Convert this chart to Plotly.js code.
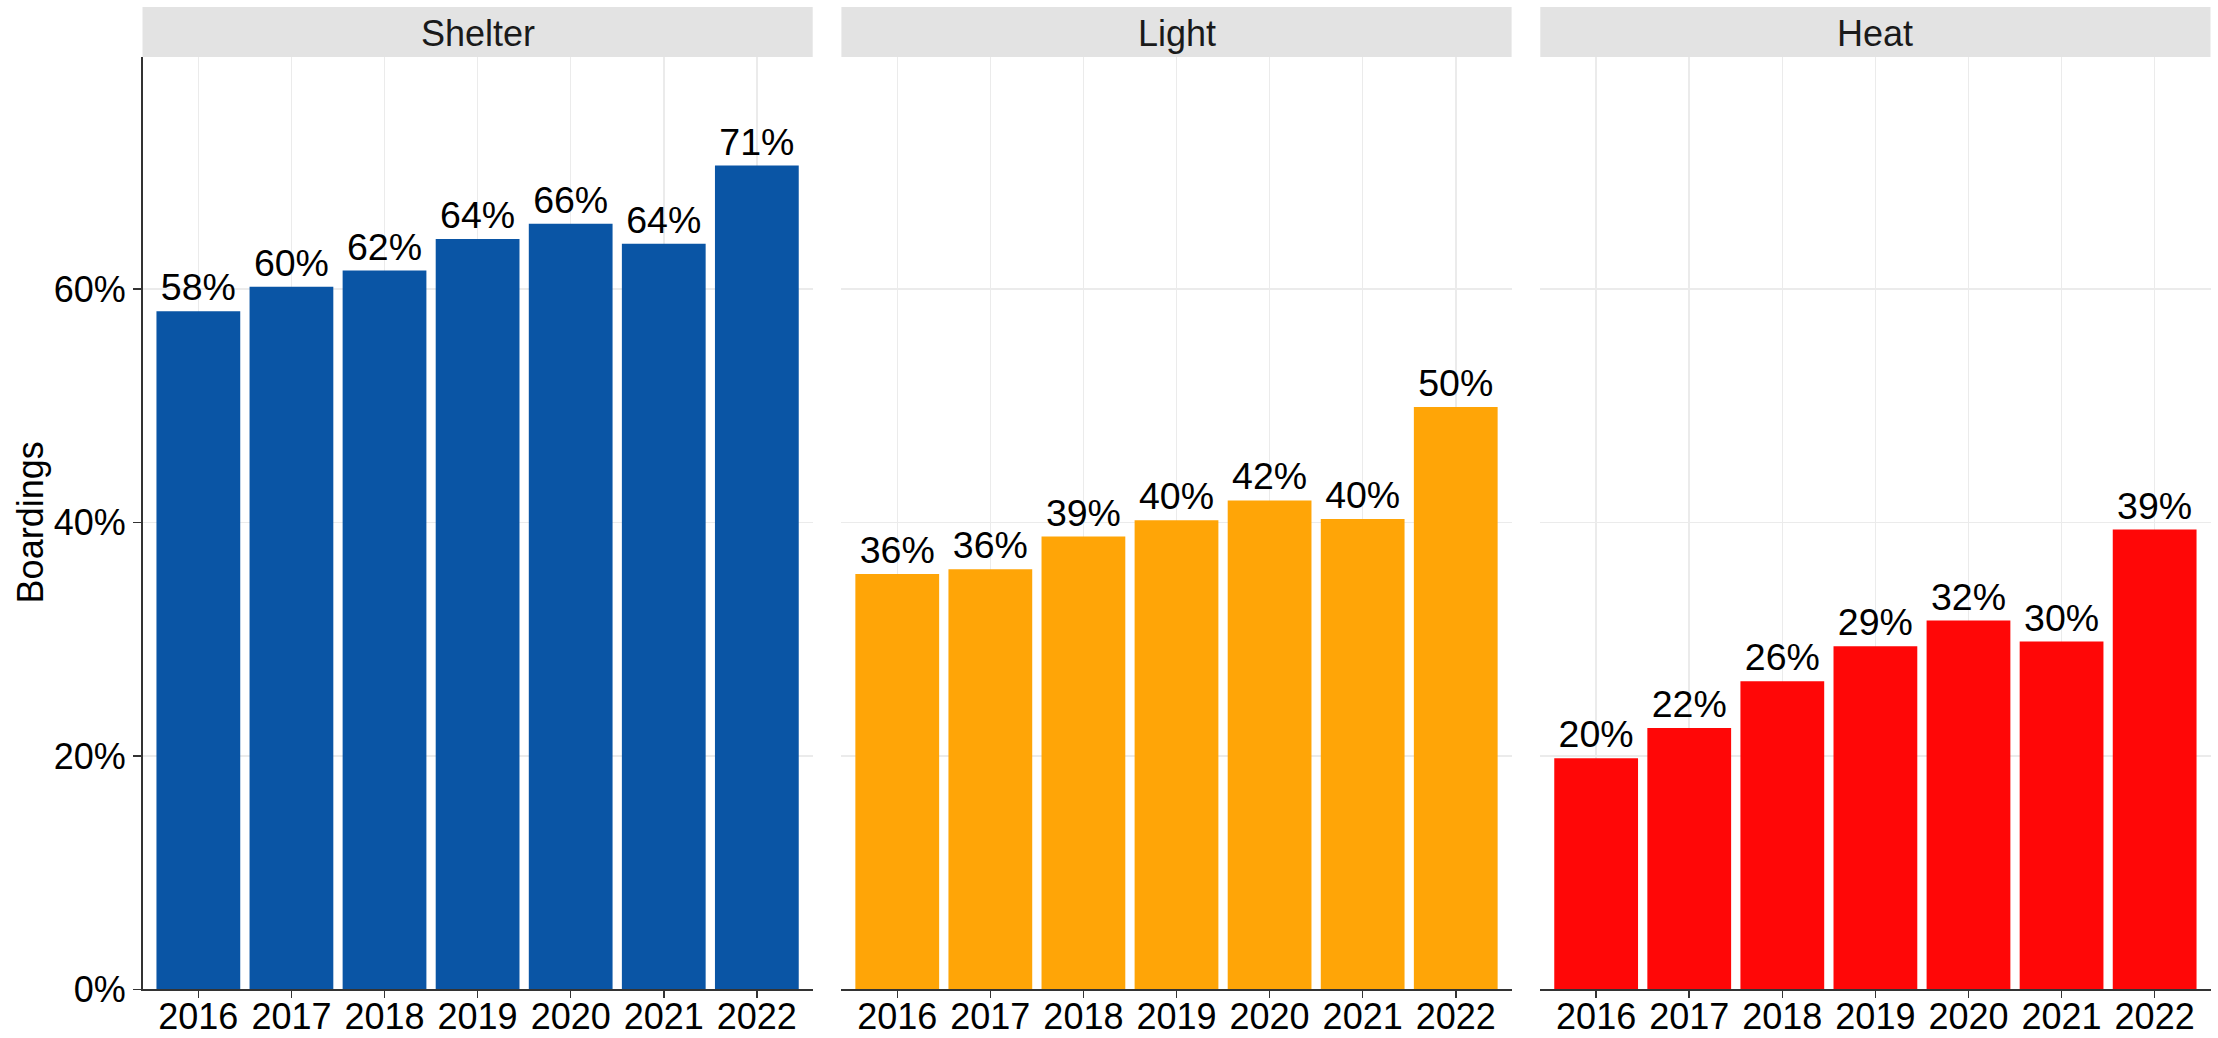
<!DOCTYPE html>
<html>
<head>
<meta charset="utf-8">
<script src="https://cdn.plot.ly/plotly-3.0.1.min.js"></script>
<style>html,body{margin:0;padding:0;background:#fff;}#chart{width:2218px;height:1038px;}</style>
</head>
<body>
<div id="chart"></div>
<script>
const years = ['2016', '2017', '2018', '2019', '2020', '2021', '2022'];
const panels = ['Shelter', 'Light', 'Heat'];
const shelter = [58.1, 60.2, 61.6, 64.3, 65.6, 63.9, 70.6];
const light = [35.6, 36.0, 38.8, 40.2, 41.9, 40.3, 49.9];
const heat = [19.8, 22.4, 26.4, 29.4, 31.6, 29.8, 39.4];
const yTicks = [0, 20, 40, 60];
const yTitle = 'Boardings';

const series = [shelter, light, heat];
const colors = ['#0A55A5', '#FFA507', '#FF0707'];
const W = 2218, H = 1038;
const FONT = 'Liberation Sans, Arial, sans-serif';
const xDomains = [[142.5, 812.7], [841.4, 1511.6], [1540.3, 2210.5]].map(d => [d[0] / W, d[1] / W]);
const yDomain = [(H - 989.3) / H, (H - 57) / H];

const traces = series.map((vals, i) => ({
  type: 'bar',
  x: years,
  y: vals,
  xaxis: i === 0 ? 'x' : 'x' + (i + 1),
  yaxis: i === 0 ? 'y' : 'y' + (i + 1),
  marker: {color: colors[i], line: {width: 0}},
  width: 0.9,
  texttemplate: '%{y:.0f}%',
  textposition: 'outside',
  cliponaxis: false,
  textfont: {family: FONT, size: 37.5, color: '#000'},
  outsidetextfont: {family: FONT, size: 37.5, color: '#000'},
  hoverinfo: 'skip',
  showlegend: false
}));

const layout = {
  width: W, height: H,
  margin: {l: 0, r: 0, t: 0, b: 0},
  paper_bgcolor: '#fff', plot_bgcolor: '#fff',
  font: {family: FONT, size: 36, color: '#000'},
  showlegend: false,
  shapes: [],
  annotations: []
};

panels.forEach((name, i) => {
  const xk = i === 0 ? 'xaxis' : 'xaxis' + (i + 1);
  const yk = i === 0 ? 'yaxis' : 'yaxis' + (i + 1);
  const xr = i === 0 ? 'x' : 'x' + (i + 1);
  layout[xk] = {
    domain: xDomains[i],
    anchor: i === 0 ? 'y' : 'y' + (i + 1),
    type: 'category',
    range: [-0.6, 6.6],
    showgrid: true, gridcolor: '#EBEBEB', gridwidth: 1.5,
    showline: true, linecolor: '#333', linewidth: 1.5,
    ticks: 'outside', ticklen: 7, tickwidth: 1.5, tickcolor: '#333',
    ticklabelstandoff: -12,
    tickfont: {family: FONT, size: 36, color: '#000'},
    zeroline: false, fixedrange: true
  };
  layout[yk] = {
    domain: yDomain,
    anchor: xr,
    range: [0, 79.9],
    tickvals: yTicks,
    ticktext: yTicks.map(v => v + '%'),
    showgrid: true, gridcolor: '#EBEBEB', gridwidth: 1.5,
    zeroline: false,
    showline: i === 0, linecolor: '#333', linewidth: 1.5,
    ticks: i === 0 ? 'outside' : '', ticklen: 8, tickwidth: 1.5, tickcolor: '#333',
    showticklabels: i === 0,
    tickfont: {family: FONT, size: 36, color: '#000'},
    fixedrange: true
  };
  layout.shapes.push({
    type: 'rect', xref: xr + ' domain', yref: 'paper',
    x0: 0, x1: 1, y0: (H - 57) / H, y1: (H - 7) / H,
    fillcolor: '#E3E3E3', line: {width: 0}, layer: 'below'
  });
  layout.annotations.push({
    xref: xr + ' domain', yref: 'paper', x: 0.5, y: (H - 33.4) / H,
    xanchor: 'center', yanchor: 'middle', showarrow: false,
    text: name, font: {family: FONT, size: 36, color: '#1A1A1A'}
  });
});

layout.annotations.push({
  xref: 'paper', yref: 'paper', x: 30 / W, y: (H - 522.4) / H,
  xanchor: 'center', yanchor: 'middle', showarrow: false, textangle: -90,
  text: yTitle, font: {family: FONT, size: 36, color: '#000'}
});

Plotly.newPlot('chart', traces, layout, {displayModeBar: false, staticPlot: true});
</script>
</body>
</html>
